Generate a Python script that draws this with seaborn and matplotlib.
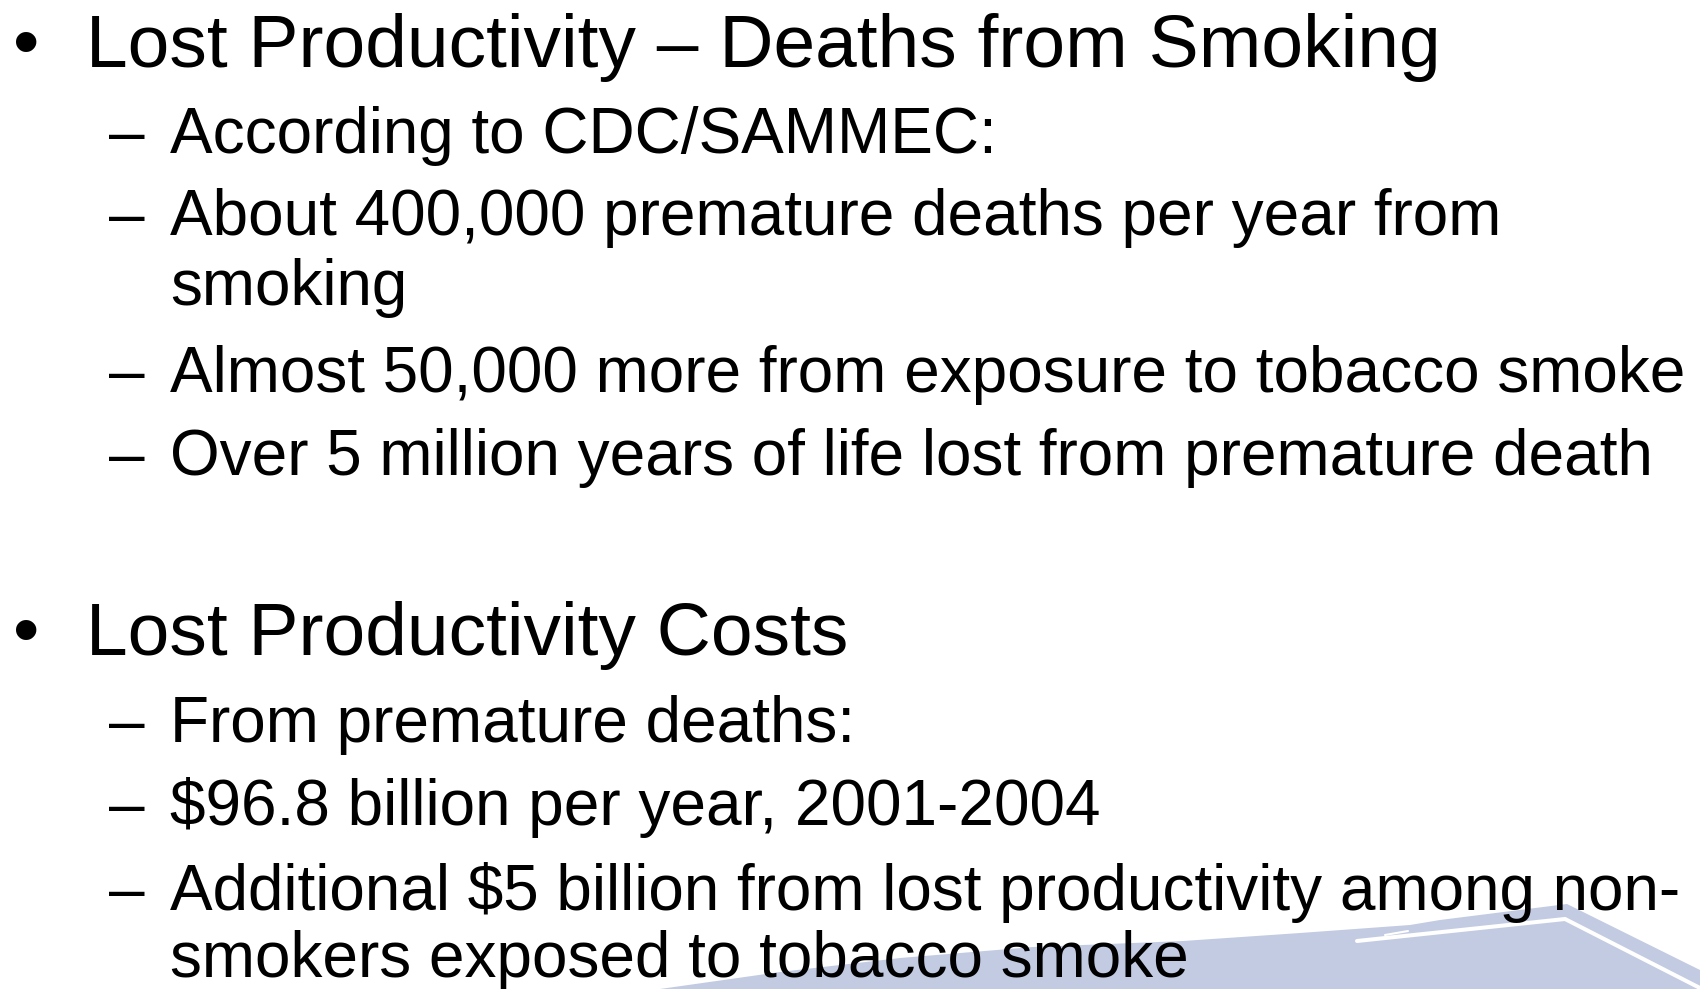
import matplotlib
matplotlib.use("Agg")
import matplotlib.pyplot as plt
import seaborn as sns
from matplotlib.patches import Polygon

sns.set_theme(style="white")
plt.rcParams['font.family'] = ['Liberation Sans', 'DejaVu Sans']

# Slide content
heading_1 = "Lost Productivity \u2013 Deaths from Smoking"
items_1 = [
    ["According to CDC/SAMMEC:"],
    ["About 400,000 premature deaths per year from", "smoking"],
    ["Almost 50,000 more from exposure to tobacco smoke"],
    ["Over 5 million years of life lost from premature death"],
]
heading_2 = "Lost Productivity Costs"
items_2 = [
    ["From premature deaths:"],
    ["$96.8 billion per year, 2001-2004"],
    ["Additional $5 billion from lost productivity among non-", "smokers exposed to tobacco smoke"],
]

W, H = 1700, 989
fig = plt.figure(figsize=(W / 100, H / 100), dpi=100)
ax = fig.add_axes([0, 0, 1, 1])
ax.set_xlim(0, W)
ax.set_ylim(H, 0)
ax.axis("off")

# decorative shape bottom-right
shape_color = "#C3CBE3"
ax.add_patch(Polygon([(660, 989), (780, 972), (900, 958), (1033, 947), (1183, 941),
                      (1300, 933), (1410, 925), (1440, 920), (1567, 904),
                      (1700, 970), (1700, 989)],
                     closed=True, facecolor=shape_color, edgecolor="none", zorder=0))
ax.plot([1357, 1565, 1700], [941, 919, 988], color="white", lw=2.9, zorder=1,
        solid_joinstyle="miter", solid_capstyle="round")
ax.plot([1385, 1408], [935, 931], color="white", lw=1.5, zorder=1)

main_fs = 54
sub_fs = 46
bullet_x, text_x = 26, 86
dash_x, sub_x = 109, 170


def draw_block(y0, heading, items, gaps, wrap_gap):
    ax.text(bullet_x, y0, "\u2022", fontsize=main_fs, ha="center", va="baseline", color="black")
    ax.text(text_x, y0, heading, fontsize=main_fs, ha="left", va="baseline", color="black")
    y = y0
    for gap, lines in zip(gaps, items):
        y += gap
        ax.text(dash_x, y, "\u2013", fontsize=sub_fs, ha="left", va="baseline", color="black")
        for k, line in enumerate(lines):
            ax.text(sub_x, y, line, fontsize=sub_fs, ha="left", va="baseline", color="black")
            if k < len(lines) - 1:
                y += wrap_gap


draw_block(67, heading_1, items_1, [86, 82, 87, 83], 70)
draw_block(655, heading_2, items_2, [87, 83, 85], 67)

fig.savefig("out.png", dpi=100)
